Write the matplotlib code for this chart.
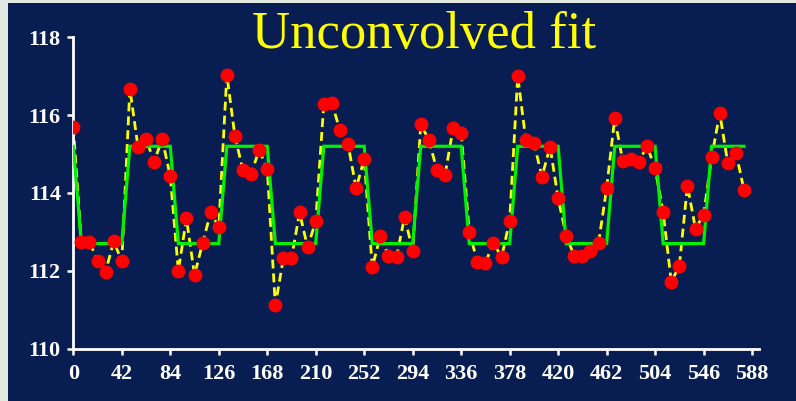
import matplotlib
matplotlib.use("Agg")
import matplotlib.pyplot as plt

# Sample times (every 7 units)
times = [0, 7, 14, 21, 28, 35, 42, 49, 56, 63, 70, 77, 84, 91, 98, 105, 112, 119,
         126, 133, 140, 147, 154, 161, 168, 175, 182, 189, 196, 203, 210, 217, 224,
         231, 238, 245, 252, 259, 266, 273, 280, 287, 294, 301, 308, 315, 322, 329,
         336, 343, 350, 357, 364, 371, 378, 385, 392, 399, 406, 413, 420, 427, 434,
         441, 448, 455, 462, 469, 476, 483, 490, 497, 504, 511, 518, 525, 532, 539,
         546, 553, 560, 567, 574, 581]

# Measured signal
measured = [115.70, 112.73, 112.75, 112.25, 111.98, 112.76, 112.25,
            116.68, 115.19, 115.39, 114.80, 115.39, 114.43,
            112.00, 113.35, 111.89, 112.71, 113.50, 113.12,
            117.04, 115.46, 114.58, 114.50, 115.10, 114.62,
            111.12, 112.32, 112.32, 113.50, 112.60, 113.28,
            116.28, 116.30, 115.62, 115.25, 114.12, 114.87,
            112.09, 112.90, 112.39, 112.36, 113.39, 112.51,
            115.77, 115.36, 114.59, 114.46, 115.66, 115.55,
            113.00, 112.24, 112.21, 112.72, 112.35, 113.29,
            117.00, 115.36, 115.29, 114.42, 115.19, 113.86,
            112.90, 112.38, 112.38, 112.51, 112.71, 114.12,
            115.92, 114.82, 114.87, 114.80, 115.21, 114.63,
            113.50, 111.72, 112.13, 114.19, 113.08, 113.44,
            114.92, 116.05, 114.76, 115.04, 114.08]

# Two-level (unconvolved) fit
fit = [115.2, 112.7, 112.7, 112.7, 112.7, 112.7, 112.7,
       115.2, 115.2, 115.2, 115.2, 115.2, 115.2,
       112.7, 112.7, 112.7, 112.7, 112.7, 112.7,
       115.2, 115.2, 115.2, 115.2, 115.2, 115.2,
       112.7, 112.7, 112.7, 112.7, 112.7, 112.7,
       115.2, 115.2, 115.2, 115.2, 115.2, 115.2,
       112.7, 112.7, 112.7, 112.7, 112.7, 112.7,
       115.2, 115.2, 115.2, 115.2, 115.2, 115.2,
       112.7, 112.7, 112.7, 112.7, 112.7, 112.7,
       115.2, 115.2, 115.2, 115.2, 115.2, 115.2,
       112.7, 112.7, 112.7, 112.7, 112.7, 112.7,
       115.2, 115.2, 115.2, 115.2, 115.2, 115.2,
       112.7, 112.7, 112.7, 112.7, 112.7, 112.7,
       115.2, 115.2, 115.2, 115.2, 115.2]

x_ticks = [0, 42, 84, 126, 168, 210, 252, 294, 336, 378, 420, 462, 504, 546, 588]
y_ticks = [110, 112, 114, 116, 118]
title = "Unconvolved fit"

W, H = 796, 401
NAVY = "#081E52"

fig = plt.figure(figsize=(W / 100, H / 100), dpi=100, facecolor="#E1E9E1")

# Navy slide panel behind the chart
bg = fig.add_axes([8 / W, 0, 1 - 8 / W, (H - 3) / H], zorder=0)
bg.set_facecolor(NAVY)
bg.set_xticks([])
bg.set_yticks([])
for s in bg.spines.values():
    s.set_visible(False)

ax = fig.add_axes([73.3 / W, (H - 348.7) / H, (759 - 73.3) / W, (348.7 - 37.3) / H],
                  zorder=1)
ax.set_facecolor("none")

ax.plot(times, measured, color="#FFFF00", lw=2.0, linestyle=(0, (3.2, 1.8)), zorder=2)
ax.plot(times, fit, color="#00F000", lw=2.3, zorder=3, solid_joinstyle="miter")
ax.plot(times, measured, linestyle="none", marker="o", ms=9, color="#FF0000",
        markeredgecolor="#FF0000", zorder=4)

ax.set_xlim(0, 594)
ax.set_ylim(110, 118)
ax.set_xticks(x_ticks)
ax.set_yticks(y_ticks)

for side in ("top", "right"):
    ax.spines[side].set_visible(False)
for side in ("left", "bottom"):
    ax.spines[side].set_color("white")
    ax.spines[side].set_linewidth(2)

ax.tick_params(axis="both", colors="white", direction="out", length=4, width=1.8)
ax.tick_params(axis="x", pad=7)
ax.tick_params(axis="y", pad=5)
for lab in ax.get_xticklabels() + ax.get_yticklabels():
    lab.set_fontfamily("Liberation Serif")
    lab.set_fontweight("bold")
    lab.set_fontsize(16)
    lab.set_color("white")

fig.text(424 / W, (H - 48) / H, title, color="#FFFF00", fontsize=38,
         family="Liberation Serif", ha="center", va="baseline")

fig.savefig("out.png", dpi=100, facecolor=fig.get_facecolor())
